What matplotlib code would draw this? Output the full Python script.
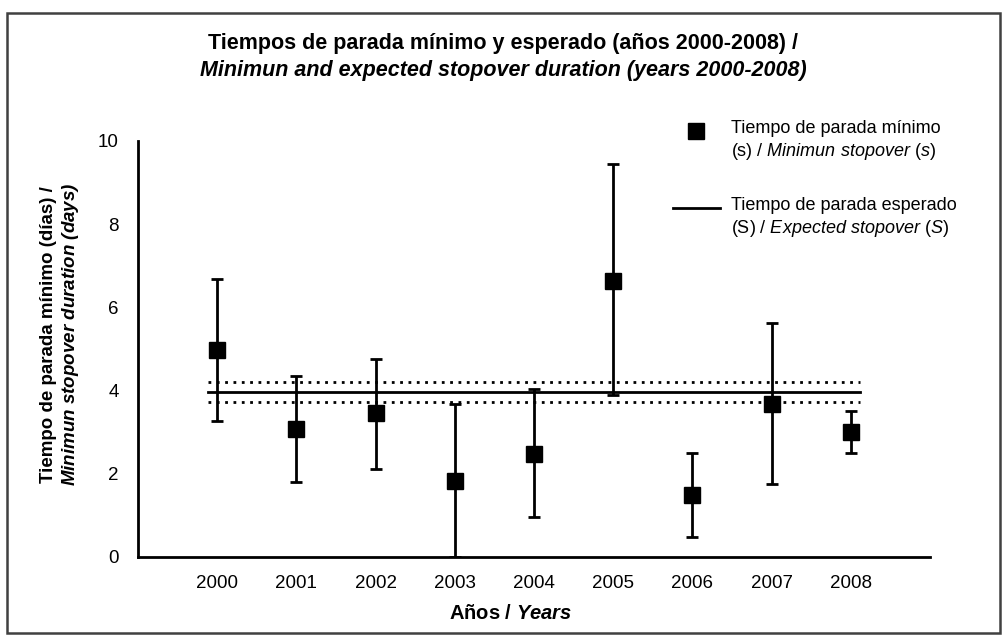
import matplotlib.pyplot as plt
from matplotlib.patches import Rectangle

plt.rcParams['font.family'] = ['Liberation Sans', 'DejaVu Sans']
plt.rcParams['mathtext.fontset'] = 'custom'
plt.rcParams['mathtext.rm'] = 'Liberation Sans'
plt.rcParams['mathtext.it'] = 'Liberation Sans:italic'
plt.rcParams['mathtext.bf'] = 'Liberation Sans:bold'
plt.rcParams['mathtext.bfit'] = 'Liberation Sans:italic:bold'

# Data
years = [2000, 2001, 2002, 2003, 2004, 2005, 2006, 2007, 2008]
s_min = [4.97, 3.08, 3.46, 1.83, 2.48, 6.64, 1.49, 3.68, 3.00]
err_upper = [6.68, 4.36, 4.76, 3.68, 4.04, 9.44, 2.50, 5.62, 3.52]
err_lower = [3.27, 1.80, 2.12, 0.00, 0.97, 3.89, 0.49, 1.75, 2.50]
expected_S = 3.97
expected_ci = [3.72, 4.21]
line_span = [1999.88, 2008.12]

fig = plt.figure(figsize=(10.07, 6.4), dpi=100)
ax = fig.add_axes([0.137, 0.1297, 0.7865, 0.65])

# outer frame
fig.patches.append(Rectangle((0.007, 0.011), 0.986, 0.968, transform=fig.transFigure,
                             fill=False, edgecolor='#404040', linewidth=1.8))

yerr = [[m - lo for m, lo in zip(s_min, err_lower)],
        [hi - m for m, hi in zip(s_min, err_upper)]]
ax.errorbar(years, s_min, yerr=yerr, fmt='s', color='black', markersize=11,
            elinewidth=2, capsize=4, capthick=2, label='_nolegend_', zorder=3)
# leading blank line so the legend handle sits beside the first text line
ax.plot([], [], 's', color='black', markersize=11,
        label=' \nTiempo de parada mínimo\n(s) / $\\mathit{Minimun\\ stopover\\ (s)}$')
ax.plot(line_span, [expected_S, expected_S], '-', color='black', linewidth=2,
        label=' \nTiempo de parada esperado\n(S) / $\\mathit{Expected\\ stopover\\ (S)}$')
for v in expected_ci:
    ax.plot(line_span, [v, v], linestyle=(0, (1, 2)), color='black', linewidth=2)

ax.set_xlim(1999, 2009)
ax.set_ylim(0, 10)
ax.set_xticks(years)
ax.set_yticks([0, 2, 4, 6, 8, 10])
ax.tick_params(length=0, labelsize=13.5)
ax.tick_params(axis='x', pad=13)
ax.tick_params(axis='y', pad=14)
ax.spines['top'].set_visible(False)
ax.spines['right'].set_visible(False)
for sp in ['left', 'bottom']:
    ax.spines[sp].set_linewidth(2)

ax.set_xlabel('Años / $\\mathbfit{Years}$', fontsize=14.5, fontweight='bold')
ax.xaxis.set_label_coords(0.47, -0.113)
ax.set_ylabel('Tiempo de parada mínimo (días) /\n$\\mathbfit{Minimun\\ stopover\\ duration\\ (days)}$',
              fontsize=13.5, fontweight='bold')
ax.yaxis.set_label_coords(-0.072, 0.535)

fig.text(0.5, 0.932, 'Tiempos de parada mínimo y esperado (años 2000-2008) /',
         ha='center', va='center', fontsize=15.5, fontweight='bold')
fig.text(0.5, 0.89, 'Minimun and expected stopover duration (years 2000-2008)',
         ha='center', va='center', fontsize=15.5, fontweight='bold', style='italic')

leg = ax.legend(loc='upper left', bbox_to_anchor=(0.655, 1.14), frameon=False,
                fontsize=13, handlelength=2.6, labelspacing=0.75, handletextpad=0.6)
for t in leg.get_texts():
    t.set_linespacing(1.3)

fig.savefig('out.png', dpi=100)
